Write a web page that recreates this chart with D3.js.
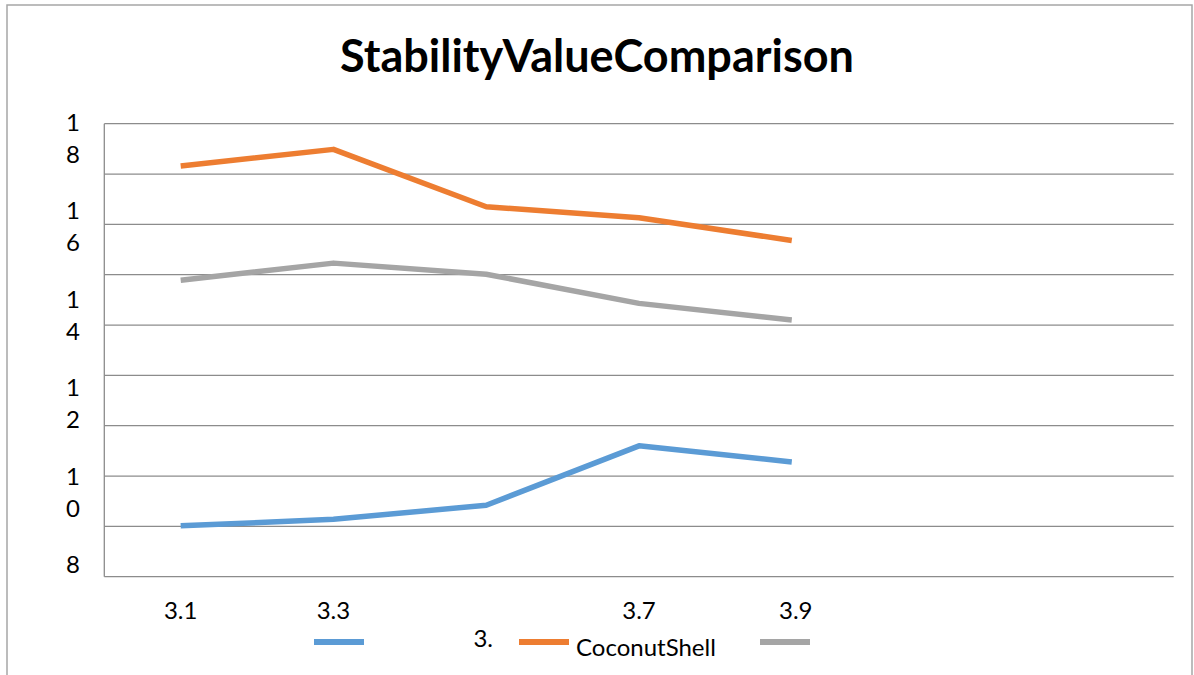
<!DOCTYPE html>
<html>
<head>
<meta charset="utf-8">
<script src="https://cdn.jsdelivr.net/npm/d3@7"></script>
<style>
  html, body { margin: 0; padding: 0; background: #ffffff; }
  svg { display: block; }
  text { font-family: Lato, "Open Sans", sans-serif; fill: #000; }
</style>
</head>
<body>
<svg id="chart" width="1194" height="675"></svg>
<script>
// ---- data ----
const title = "StabilityValueComparison";
const categories = ["3.1", "3.3", "3.5", "3.7", "3.9"];
const categorySlots = ["3.1", "3.3", "3.5", "3.7", "3.9", "", " "];
const xTickLabels = ["3.1", "3.3", "3.", "3.7", "3.9"];
const seriesNames = ["3.", "CoconutShell", ""];
const seriesColors = ["#5B9BD5", "#ED7D31", "#A5A5A5"];
const blueValues   = [9.01, 9.14, 9.42, 10.60, 10.28];
const orangeValues = [16.16, 16.49, 15.35, 15.13, 14.68];
const grayValues   = [13.89, 14.23, 14.01, 13.43, 13.10];
const gridValues   = [8, 9, 10, 11, 12, 13, 14, 15, 16, 17];
const yTickValues  = [18, 16, 14, 12, 10, 8];

const svg = d3.select("#chart");

// outer frame
svg.append("rect")
  .attr("x", 7).attr("y", 5).attr("width", 1185).attr("height", 690)
  .attr("fill", "none").attr("stroke", "#a6a6a6").attr("stroke-width", 1.5);

const plot = { left: 104.3, right: 1173.7, top: 123.7, bottom: 576.7 };

const x = d3.scaleBand().domain(categorySlots).range([plot.left, plot.right]);
const xc = c => x(c) + x.bandwidth() / 2;
const y = d3.scaleLinear().domain([8, 17]).range([plot.bottom, plot.top]);
// tick-label placement scale (labels are wrapped into stacked digits)
const yLab = d3.scaleLinear().domain([18, 10]).range([162.7, 516.7]);

// gridlines
svg.append("g").selectAll("line").data(gridValues).join("line")
  .attr("x1", plot.left).attr("x2", plot.right)
  .attr("y1", d => y(d)).attr("y2", d => y(d))
  .attr("stroke", "#8c8c8c").attr("stroke-width", 1.3);

// y axis line
svg.append("line")
  .attr("x1", plot.left).attr("x2", plot.left)
  .attr("y1", plot.top).attr("y2", plot.bottom)
  .attr("stroke", "#8c8c8c").attr("stroke-width", 1.3);

// y tick labels (digits stacked)
const yl = svg.append("g");
yTickValues.forEach(v => {
  const chars = String(v).split("");
  const t = yl.append("text").attr("text-anchor", "middle").attr("font-size", 24);
  chars.forEach((ch, i) => {
    t.append("tspan").attr("x", 73).attr("y", yLab(v) - 32 + i * 32).text(ch);
  });
});

// x tick labels
svg.append("g").selectAll("text").data(categories).join("text")
  .attr("x", (d, i) => xc(d) + (i === 4 ? 4 : 0) - (i === 2 ? 3 : 0))
  .attr("y", (d, i) => i === 2 ? 647 : 618.5)
  .attr("text-anchor", "middle").attr("font-size", 24)
  .text((d, i) => xTickLabels[i]);

// lines
const line = d3.line().x((d, i) => xc(categories[i])).y(d => y(d));
[blueValues, orangeValues, grayValues].forEach((vals, k) => {
  svg.append("path").datum(vals)
    .attr("d", line)
    .attr("fill", "none")
    .attr("stroke", seriesColors[k])
    .attr("stroke-width", 5.5)
    .attr("stroke-linejoin", "round");
});

// legend
const legendX = [314, 519, 760];
seriesNames.forEach((name, k) => {
  svg.append("line")
    .attr("x1", legendX[k]).attr("x2", legendX[k] + 50)
    .attr("y1", 642).attr("y2", 642)
    .attr("stroke", seriesColors[k]).attr("stroke-width", 6);
  if (k === 1) {
    svg.append("text").attr("x", legendX[k] + 57).attr("y", 656)
      .attr("font-size", 24).text(name);
  }
});

// title
const tt = svg.append("text")
  .attr("x", 597).attr("y", 72)
  .attr("text-anchor", "middle")
  .attr("font-weight", "bold")
  .attr("font-size", 40)
  .text(title);
const w = tt.node().getComputedTextLength();
tt.attr("font-size", 40 * 514 / w);
</script>
</body>
</html>
